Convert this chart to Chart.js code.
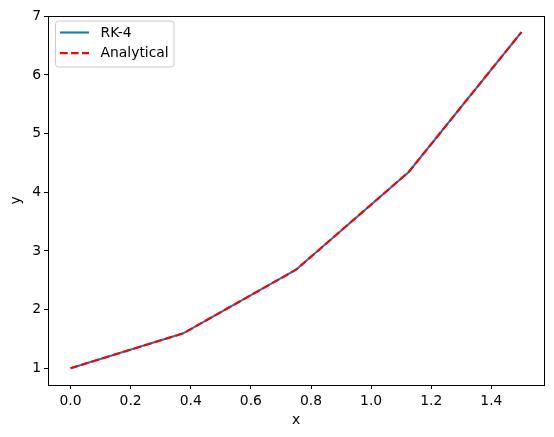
<!DOCTYPE html>
<html>
<head>
<meta charset="utf-8">
<script src="https://cdn.jsdelivr.net/npm/chart.js@4/dist/chart.umd.min.js"></script>
<style>
  html, body { margin: 0; padding: 0; background: #fff; }
  #wrap { width: 554px; height: 437px; }
</style>
</head>
<body>
<div id="wrap"><canvas id="rkChart" width="554" height="437"></canvas></div>
<script>
// data
var xValues = [0, 0.375, 0.75, 1.125, 1.5];
var rk4Values = [1, 1.5955, 2.6794, 4.3457, 6.7314];
var analyticalValues = [1, 1.5956, 2.6795, 4.3459, 6.7317];
var xTicks = [0, 0.2, 0.4, 0.6, 0.8, 1.0, 1.2, 1.4];
var yTicks = [1, 2, 3, 4, 5, 6, 7];

var FONT = 'DejaVu Sans';

function toPoints(xs, ys) {
  return xs.map(function (x, i) { return { x: x, y: ys[i] }; });
}

// box around the plot area
var frame = {
  id: 'frame',
  afterDatasetsDraw: function (chart) {
    var a = chart.chartArea, ctx = chart.ctx;
    ctx.save();
    ctx.strokeStyle = '#000';
    ctx.lineWidth = 1;
    ctx.strokeRect(Math.round(a.left) + 0.5, Math.round(a.top) + 0.5,
      Math.round(a.right - a.left), Math.round(a.bottom - a.top));
    ctx.restore();
  }
};

// matplotlib style legend in the top left corner
var innerLegend = {
  id: 'innerLegend',
  afterDraw: function (chart) {
    var a = chart.chartArea, ctx = chart.ctx;
    var x0 = a.left + 7.5, y0 = a.top + 5;
    ctx.save();
    ctx.beginPath();
    ctx.roundRect(x0, y0, 118.5, 46, 3);
    ctx.fillStyle = 'rgba(255,255,255,0.8)';
    ctx.fill();
    ctx.strokeStyle = '#cccccc';
    ctx.lineWidth = 1;
    ctx.stroke();
    ctx.font = '13.9px "' + FONT + '"';
    ctx.textBaseline = 'middle';
    chart.data.datasets.forEach(function (ds, i) {
      var ly = y0 + 11.5 + i * 20.6;
      ctx.beginPath();
      ctx.setLineDash(ds.borderDash || []);
      ctx.strokeStyle = ds.borderColor;
      ctx.lineWidth = ds.borderWidth;
      ctx.moveTo(x0 + 4.5, ly);
      ctx.lineTo(x0 + 33.5, ly);
      ctx.stroke();
      ctx.setLineDash([]);
      ctx.fillStyle = '#000';
      ctx.fillText(ds.label, x0 + 45, ly + 0.5);
    });
    ctx.restore();
  }
};

var ctx = document.getElementById('rkChart');
var chart = new Chart(ctx, {
  type: 'line',
  data: {
    datasets: [
      {
        label: 'RK-4',
        data: toPoints(xValues, rk4Values),
        borderColor: '#1f77b4',
        borderWidth: 2.1,
        pointRadius: 0,
        tension: 0,
        order: 2
      },
      {
        label: 'Analytical',
        data: toPoints(xValues, analyticalValues),
        borderColor: '#ff0000',
        borderWidth: 2.1,
        borderDash: [7.7, 3.3],
        pointRadius: 0,
        tension: 0,
        order: 1
      }
    ]
  },
  options: {
    responsive: false,
    animation: false,
    layout: { padding: { left: 0, top: 16, right: 10, bottom: 0 } },
    plugins: { legend: { display: false }, tooltip: { enabled: false } },
    scales: {
      x: {
        type: 'linear',
        min: -0.075,
        max: 1.575,
        afterBuildTicks: function (s) { s.ticks = xTicks.map(function (v) { return { value: v }; }); },
        afterFit: function (s) { s.height = 52; },
        grid: { drawOnChartArea: false, drawTicks: true, tickLength: 4, color: '#000', tickWidth: 1 },
        border: { display: false },
        ticks: {
          color: '#000', padding: 4, maxRotation: 0,
          font: { family: FONT, size: 13.9 },
          callback: function (v) { return v.toFixed(1); }
        },
        title: {
          display: true, text: 'x', color: '#000',
          font: { family: FONT, size: 13.9 },
          padding: { top: 0, bottom: 8 }
        }
      },
      y: {
        type: 'linear',
        min: 0.714,
        max: 7.006,
        afterBuildTicks: function (s) { s.ticks = yTicks.map(function (v) { return { value: v }; }); },
        afterFit: function (s) { s.width = 48; },
        grid: { drawOnChartArea: false, drawTicks: true, tickLength: 4, color: '#000', tickWidth: 1 },
        border: { display: false },
        ticks: {
          color: '#000', padding: 3,
          font: { family: FONT, size: 13.9 },
          callback: function (v) { return String(v); }
        },
        title: {
          display: true, text: 'y', color: '#000',
          font: { family: FONT, size: 13.9 },
          padding: { top: 8, bottom: 0 }
        }
      }
    }
  },
  plugins: [frame, innerLegend]
});
</script>
</body>
</html>
